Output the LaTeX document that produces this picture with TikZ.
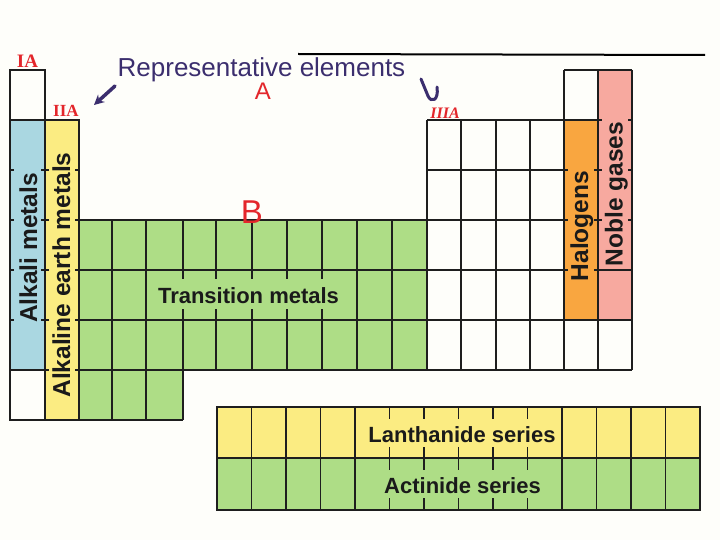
\documentclass[tikz,border=0pt]{standalone}
\usepackage{fontspec}
\setmainfont{Liberation Sans}
\newfontfamily\redfont{Liberation Serif}
\usetikzlibrary{arrows.meta}
\definecolor{bg}{HTML}{FEFEFA}
\definecolor{gridc}{HTML}{1E1E1E}
\definecolor{alkblue}{HTML}{AAD7E1}
\definecolor{earthyel}{HTML}{FBEC82}
\definecolor{transgreen}{HTML}{AEDD86}
\definecolor{halorange}{HTML}{F9A640}
\definecolor{noblepink}{HTML}{F7A99F}
\definecolor{handpurple}{HTML}{3B2E6E}
\definecolor{handred}{HTML}{E3262B}
\definecolor{txt}{HTML}{1A1A1A}
\tikzset{
  gridline/.style={draw=gridc, line width=1.2pt},
  vlabel/.style={rotate=90, anchor=base, text=txt, font=\bfseries\fontsize{24.5}{24.5}\selectfont, inner sep=0pt},
  hlabel/.style={anchor=base, text=txt, font=\bfseries\fontsize{22}{22}\selectfont, inner sep=0pt},
  handtext/.style={anchor=base, text=handpurple, font=\fontsize{26}{26}\selectfont, inner sep=0pt},
  redlabel/.style={anchor=base, text=handred, inner sep=0pt},
  handarrow/.style={draw=handpurple, line width=3.5pt, line cap=round, line join=round},
}
\begin{document}
\begin{tikzpicture}[x=1pt,y=-1pt]
\fill[bg] (0,0) rectangle (720,540);
\useasboundingbox (0,0) rectangle (720,540);

% fills
\fill[alkblue] (10,120) rectangle (45,370);
\fill[earthyel] (45,120) rectangle (79,420);
\fill[transgreen] (79,220) rectangle (427,370) (79,370) rectangle (183,420);
\fill[halorange] (564,120) rectangle (598,320);
\fill[noblepink] (598,70) rectangle (632,320);
\fill[earthyel] (217,407) rectangle (700,458);
\fill[transgreen] (217,458) rectangle (700,510);

% s-block
\draw[gridline] (10,70) rectangle (45,420);
\draw[gridline] (45,120) rectangle (79,420);
\draw[gridline] (10,120) -- (45,120) (10,370) -- (49,370);
\foreach \y in {170,220,270,320} \draw[gridline] (10,\y) -- (14,\y) (41,\y) -- (49,\y);
\draw[gridline] (75,170) -- (79,170);
\foreach \y in {220,270,320,370} \draw[gridline] (75,\y) -- (427,\y);

% transition block
\draw[gridline] (79,420) -- (183,420);
\foreach \x in {112,146} \draw[gridline] (\x,220) -- (\x,420);
\draw[gridline] (183,220) -- (183,279) (183,309) -- (183,420);
\foreach \x in {216,252,287,322} \draw[gridline] (\x,220) -- (\x,279) (\x,309) -- (\x,370);
\foreach \x in {357,392} \draw[gridline] (\x,220) -- (\x,370);

% p-block
\foreach \x in {427,461,496,530} \draw[gridline] (\x,120) -- (\x,370);
\foreach \x in {564,598,632} \draw[gridline] (\x,70) -- (\x,370);
\draw[gridline] (564,70) -- (632,70);
\draw[gridline] (427,120) -- (602,120) (628,120) -- (632,120);
\foreach \y in {170,220} \draw[gridline] (427,\y) -- (568,\y) (594,\y) -- (602,\y) (628,\y) -- (632,\y);
\draw[gridline] (427,270) -- (568,270) (594,270) -- (632,270);
\draw[gridline] (427,320) -- (632,320) (427,370) -- (632,370);

% f-block
\draw[gridline] (217,407) rectangle (700,510) (217,458) -- (700,458);
\foreach \k in {1,2,3,4,10,11,12,13} \draw[gridline] ({217+34.5*\k},407) -- ({217+34.5*\k},510);
\foreach \k in {5,...,9} \draw[gridline] ({217+34.5*\k},407) -- ({217+34.5*\k},419) ({217+34.5*\k},447) -- ({217+34.5*\k},470) ({217+34.5*\k},498) -- ({217+34.5*\k},510);

% printed labels
\node[vlabel] (alkali) at (37,248) {Alkali metals};
\node[vlabel] (earth) at (70,275) {Alkaline earth metals};
\node[vlabel] (halogens) at (588,226) {Halogens};
\node[vlabel] (noble) at (622.5,194) {Noble gases};
\node[hlabel] (trans) at (248.5,303) {Transition metals};
\node[hlabel] (lanth) at (462,442) {Lanthanide series};
\node[hlabel] (actin) at (462.5,493) {Actinide series};

% top rule
\coordinate (ruleL) at (298,54);
\coordinate (ruleR) at (705,55);
\draw[line width=2pt, black] (ruleL) -- (ruleR);

% handwritten annotations
\node[handtext] (rep) at (261.5,77) {Representative elements};
\node[redlabel, font=\fontsize{24}{24}\selectfont] (groupA) at (263,100) {A};
\node[redlabel, font=\fontsize{33}{33}\selectfont] (groupB) at (252,223) {B};
\node[redlabel, font=\redfont\bfseries\fontsize{19}{19}\selectfont] (ia) at (27.5,68) {IA};
\node[redlabel, font=\redfont\bfseries\fontsize{17}{17}\selectfont] (iia) at (66,117) {IIA};
\node[redlabel, font=\redfont\bfseries\itshape\fontsize{16}{16}\selectfont] (iiia) at (445,119) {IIIA};

\coordinate (arrAs) at (115,86);
\coordinate (arrAe) at (94,105);
\draw[handarrow, -{Stealth[length=10pt,width=10pt]}] (arrAs) -- (arrAe);
\coordinate (arrBs) at (421,79);
\coordinate (arrBm) at (428,96);
\coordinate (arrBe) at (437,87);
\draw[handarrow, line width=3pt] (arrBs) -- (arrBm) .. controls (431,103) and (439,101) .. (arrBe);
\end{tikzpicture}
\end{document}
